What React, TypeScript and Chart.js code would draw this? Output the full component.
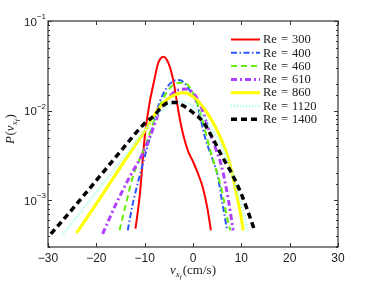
import React, { useEffect, useRef } from 'react';
import { Chart, registerables } from 'chart.js';
Chart.register(...registerables);

// ---- data ----
const reLabels = ['300', '400', '460', '610', '860', '1120', '1400'];
const xTicks = [-30, -20, -10, 0, 10, 20, 30];
const yMajorTicks = [0.1, 0.01, 0.001];

const re300X = [-11.9, -11, -10, -9, -8, -7.2, -6.1, -5.1, -4.1, -3.4, -2.7, -2, -1, 0, 1, 2, 3, 3.7];
const re300Y = [4.8e-4, 1.15e-3, 5e-3, 0.012, 0.022, 0.034, 0.04, 0.034, 0.022, 0.0132, 0.0079, 0.0053, 0.0035, 0.0027, 0.002, 0.0014, 8e-4, 4.6e-4];

const re400X = [-13.5, -12.5, -11, -9, -7, -5.5, -4, -3, -2, -0.6, 0.8, 2.5, 4.2, 5, 6, 7];
const re400Y = [4.6e-4, 8.9e-4, 1.9e-3, 4.8e-3, 0.012, 0.0178, 0.0214, 0.0219, 0.0209, 0.0166, 0.012, 0.005, 0.0027, 0.002, 9.8e-4, 4.8e-4];

const re460X = [-15.2, -14, -12.4, -11, -9.6, -7.5, -5.5, -4, -2.5, -1, 0.5, 2, 3.5, 5, 6, 7, 7.7];
const re460Y = [4.6e-4, 8.5e-4, 1.86e-3, 2.9e-3, 4.4e-3, 9.3e-3, 0.0158, 0.0195, 0.0204, 0.0191, 0.0138, 7.6e-3, 3.7e-3, 2.0e-3, 1.26e-3, 6.6e-4, 4.6e-4];

const re610X = [-18.7, -16, -13, -10.3, -8.9, -6.8, -5, -3, -1.5, 0, 1.5, 3.2, 4.9, 5.9, 7.3, 8.3];
const re610Y = [4.2e-4, 8.9e-4, 1.86e-3, 3.4e-3, 5.1e-3, 0.0102, 0.0141, 0.017, 0.0174, 0.0158, 0.0117, 6.3e-3, 3.5e-3, 2.4e-3, 1.02e-3, 4.6e-4];

const re860X = [-24.1, -20, -15, -10, -7, -5, -3, -2, -1, 1, 3, 5, 7, 8, 9, 10, 10.4];
const re860Y = [4.3e-4, 9.1e-4, 2.34e-3, 5.9e-3, 0.0107, 0.0138, 0.0155, 0.0158, 0.0155, 0.0129, 9.3e-3, 6.0e-3, 3.3e-3, 2.1e-3, 1.17e-3, 6.3e-4, 4.6e-4];

const re1120X = [-26.8, -20, -15, -10, -7, -5, -3, -1, 1, 3, 5, 7, 9, 10.5, 11.3];
const re1120Y = [4.2e-4, 1.23e-3, 2.7e-3, 6.0e-3, 9.3e-3, 0.0115, 0.0126, 0.012, 0.01, 7.4e-3, 4.9e-3, 2.95e-3, 1.35e-3, 7.2e-4, 4.5e-4];

const re1400X = [-29.4, -25, -20, -15, -10, -8, -6.5, -5, -3.5, -2, 0, 2, 4, 6, 8, 10, 12, 12.8];
const re1400Y = [4.2e-4, 7.9e-4, 1.66e-3, 3.5e-3, 7.2e-3, 8.8e-3, 0.011, 0.0123, 0.0123, 0.0113, 0.0095, 0.0076, 0.005, 0.0031, 0.002, 0.00117, 6.0e-4, 4.5e-4];

const seriesX = [re300X, re400X, re460X, re610X, re860X, re1120X, re1400X];
const seriesY = [re300Y, re400Y, re460Y, re610Y, re860Y, re1120Y, re1400Y];

// ---- styles ----
const colors = ['#ff0000', '#2a55ff', '#66ee00', '#b040ff', '#ffff00', '#a8ffee', '#000000'];
const widths = [2, 2, 2, 3, 3, 2.5, 3.5];
const dashes: number[][] = [[], [6, 2.5, 1.5, 2.5], [6, 4], [6, 3, 2, 3], [], [1.2, 1.8], [6, 4]];

type Part = { t: string; size: number; italic: boolean; dy: number; gap?: number };

function drawParts(ctx: CanvasRenderingContext2D, parts: Part[], cx: number, baseY: number) {
  const fam = '"Liberation Serif", "DejaVu Serif", serif';
  let total = 0;
  const ws: number[] = [];
  for (const p of parts) {
    ctx.font = `${p.italic ? 'italic ' : ''}${p.size}px ${fam}`;
    const w = ctx.measureText(p.t).width + (p.gap || 0);
    ws.push(w);
    total += w;
  }
  let x = cx - total / 2;
  ctx.textBaseline = 'alphabetic';
  ctx.textAlign = 'left';
  parts.forEach((p, i) => {
    ctx.font = `${p.italic ? 'italic ' : ''}${p.size}px ${fam}`;
    ctx.fillText(p.t, x, baseY + p.dy);
    x += ws[i];
  });
}

const decorPlugin = {
  id: 'decor',
  afterDraw(chart: any) {
    const ctx: CanvasRenderingContext2D = chart.ctx;
    const { left, right, top, bottom } = chart.chartArea;
    const xs = chart.scales.x;
    const ys = chart.scales.y;
    ctx.save();
    // frame
    ctx.strokeStyle = '#333';
    ctx.lineWidth = 1.2;
    ctx.strokeRect(left, top, right - left, bottom - top);
    // x ticks (inside, top and bottom)
    ctx.lineWidth = 1;
    ctx.beginPath();
    for (const v of xTicks) {
      const px = Math.round(xs.getPixelForValue(v)) + 0.5;
      ctx.moveTo(px, bottom); ctx.lineTo(px, bottom - 4);
      ctx.moveTo(px, top); ctx.lineTo(px, top + 4);
    }
    // y ticks (log: major + minor)
    for (const t of ys.ticks) {
      const v = t.value;
      if (v < ys.min || v > ys.max) continue;
      const lg = Math.log10(v);
      const major = Math.abs(lg - Math.round(lg)) < 1e-6;
      const len = major ? 4 : 2;
      const py = Math.round(ys.getPixelForValue(v)) + 0.5;
      ctx.moveTo(left, py); ctx.lineTo(left + len, py);
      ctx.moveTo(right, py); ctx.lineTo(right - len, py);
    }
    ctx.stroke();

    // y tick labels 10^n
    ctx.fillStyle = '#222';
    for (const v of yMajorTicks) {
      const py = ys.getPixelForValue(v);
      const exp = '\u2212' + String(Math.round(-Math.log10(v)));
      ctx.font = '8px "Liberation Sans", Arial, sans-serif';
      const sw = ctx.measureText(exp).width;
      ctx.textAlign = 'left';
      ctx.textBaseline = 'middle';
      const supX = left - 2 - sw;
      ctx.fillText(exp, supX, py - 4);
      ctx.font = '11.5px "Liberation Sans", Arial, sans-serif';
      ctx.textAlign = 'right';
      ctx.fillText('10', supX, py + 1.5);
    }

    // x axis title
    ctx.fillStyle = '#222';
    drawParts(ctx, [
      { t: 'v', size: 13, italic: true, dy: 0 },
      { t: 'x', size: 9, italic: true, dy: 2.5 },
      { t: 'f', size: 7, italic: true, dy: 5, gap: 1 },
      { t: '(cm/s)', size: 13, italic: false, dy: 0 },
    ], (left + right) / 2, 274);

    // y axis title (rotated)
    ctx.save();
    ctx.translate(14, 129);
    ctx.rotate(-Math.PI / 2);
    drawParts(ctx, [
      { t: 'P', size: 13, italic: true, dy: 0, gap: 0.5 },
      { t: '(', size: 13, italic: false, dy: 0 },
      { t: 'v', size: 13, italic: true, dy: 0 },
      { t: 'x', size: 9, italic: true, dy: 2.5 },
      { t: 'f', size: 7, italic: true, dy: 5, gap: 1 },
      { t: ')', size: 13, italic: false, dy: 0 },
    ], 0, 0);
    ctx.restore();

    // legend
    const lx0 = 231, lx1 = 260, tx = 263, y0 = 39.5, dyRow = 13.3;
    chart.data.datasets.forEach((ds: any, i: number) => {
      const y = y0 + i * dyRow;
      ctx.save();
      ctx.strokeStyle = ds.borderColor;
      ctx.lineWidth = ds.borderWidth;
      ctx.setLineDash(ds.borderDash || []);
      ctx.beginPath();
      ctx.moveTo(lx0, y); ctx.lineTo(lx1, y);
      ctx.stroke();
      ctx.restore();
      ctx.fillStyle = '#222';
      ctx.textAlign = 'left';
      ctx.textBaseline = 'middle';
      const fam = '"Liberation Serif", "DejaVu Serif", serif';
      ctx.font = `12.5px ${fam}`;
      let x = tx;
      const segs = ['Re', '=', reLabels[i]];
      segs.forEach((s, k) => {
        ctx.fillText(s, x, y + 0.5);
        x += ctx.measureText(s).width + (k < 2 ? 4 : 0);
      });
    });
    ctx.restore();
  },
};

export default function App() {
  const ref = useRef<HTMLCanvasElement>(null);
  useEffect(() => {
    if (!ref.current) return;
    const datasets = seriesX.map((xs, i) => ({
      label: 'Re = ' + reLabels[i],
      data: xs.map((x, k) => ({ x, y: seriesY[i][k] })),
      borderColor: colors[i],
      backgroundColor: colors[i],
      borderWidth: widths[i],
      borderDash: dashes[i],
      pointRadius: 0,
      fill: false,
      cubicInterpolationMode: 'monotone' as const,
      order: seriesX.length - i,
    }));
    const chart = new Chart(ref.current, {
      type: 'line',
      data: { datasets },
      options: {
        responsive: false,
        animation: false,
        devicePixelRatio: 1,
        layout: { padding: { left: 0, top: 21, right: 35, bottom: 0 } },
        plugins: { legend: { display: false }, tooltip: { enabled: false } },
        scales: {
          x: {
            type: 'linear',
            min: -30,
            max: 30,
            grid: { display: false, drawTicks: false },
            border: { display: false },
            ticks: {
              stepSize: 10,
              padding: 4,
              color: '#222',
              font: { family: '"Liberation Sans", Arial, sans-serif', size: 12 },
              callback: (v: any) => String(v).replace('-', '\u2212'),
            },
            afterFit: (s: any) => { s.height = 36; },
          },
          y: {
            type: 'logarithmic',
            min: 3.1e-4,
            max: 0.1,
            grid: { display: false, drawTicks: false },
            border: { display: false },
            ticks: { display: false, autoSkip: false },
            afterFit: (s: any) => { s.width = 48; },
          },
        },
      },
      plugins: [decorPlugin],
    });
    return () => chart.destroy();
  }, []);
  return (
    <div style={{ position: 'fixed', left: 0, top: 0, width: 373, height: 283, background: '#fff' }}>
      <canvas ref={ref} width={373} height={283} style={{ width: 373, height: 283 }} />
    </div>
  );
}
